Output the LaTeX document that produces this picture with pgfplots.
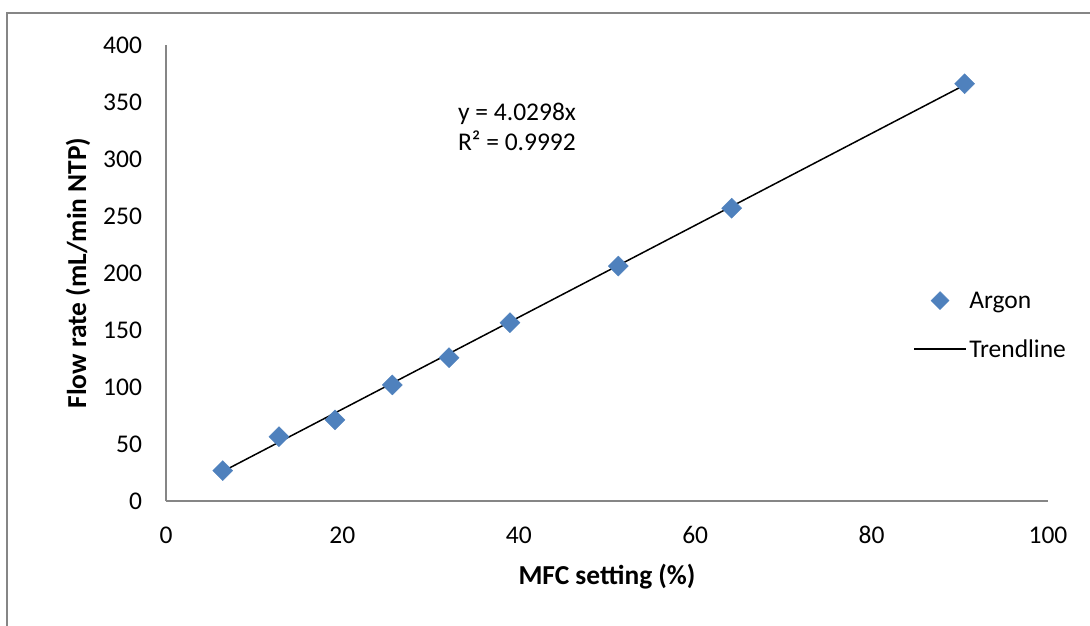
\documentclass[border=0pt]{standalone}
\usepackage{fontspec}
\setmainfont{Carlito}
\usepackage{pgfplots}
\pgfplotsset{compat=1.18}
\usetikzlibrary{calc}
\definecolor{argon}{HTML}{4F81BD}
\definecolor{axgray}{HTML}{868686}
\begin{document}
\begin{tikzpicture}
\begin{axis}[
  scale only axis, width=882bp, height=456bp,
  xmin=0, xmax=100, ymin=0, ymax=400,
  xtick={0,20,...,100}, ytick={0,50,...,400},
  axis x line*=bottom, axis y line*=left,
  axis line style={axgray, line width=1.3bp},
  major tick length=0pt,
  tick label style={font=\fontsize{25.5bp}{30bp}\selectfont},
  /pgf/number format/assume math mode=true,
  xticklabel style={yshift=-22bp},
  yticklabel style={xshift=-20.5bp},
  every axis x label/.style={at={(axis description cs:0.5,0)}, yshift=-76bp, anchor=center, font=\fontsize{27.4bp}{32bp}\selectfont\bfseries},
  every axis y label/.style={at={(axis description cs:0,0.5)}, xshift=-88bp, rotate=90, anchor=center, font=\fontsize{27.4bp}{32bp}\selectfont\bfseries},
  xlabel={MFC setting (\%)},
  ylabel={Flow rate (mL/min NTP)},
  legend style={at={(axis description cs:0.847,0.465)}, anchor=north west, draw=none, fill=none,
    font=\fontsize{25.5bp}{30bp}\selectfont, row sep=25bp, inner sep=0pt,
    nodes={inner sep=2.5bp, anchor=west}},
  legend cell align=left,
  clip=false,
]
\addplot[only marks, mark=square*, mark size=7.07bp, mark options={rotate=45}, color=argon,
  legend image code/.code={\draw[mark=square*, mark size=6.4bp, mark options={rotate=45}, argon] plot coordinates {(26bp,0bp)};}]
  coordinates {
  (6.43,26.6) (12.81,56.4) (19.16,71.1) (25.66,101.8) (32.09,125.7)
  (39.0,156.4) (51.28,206.1) (64.14,256.8) (90.54,366.0)
  };
\addlegendentry{Argon}
\addplot[black, line width=1.5bp,
  legend image code/.code={\draw[black, line width=1.5bp] (0bp,0bp) -- (52bp,0bp);}]
  coordinates {(6.43,25.9) (90.54,364.9)};
\addlegendentry{Trendline}
\node[anchor=west, align=left, font=\fontsize{25.5bp}{30bp}\selectfont, inner sep=0pt] at (axis cs:33.1,328) {y = 4.0298x\\R² = 0.9992};
\coordinate (sw) at (rel axis cs:0,0);
\end{axis}
\pgfresetboundingbox
\path[use as bounding box] ($(sw)+(-166bp,-125bp)$) rectangle ($(sw)+(924bp,501bp)$);
\draw[axgray, line width=1.5bp] ($(sw)+(-159bp,-130bp)$) -- ($(sw)+(-159bp,488bp)$) -- ($(sw)+(930bp,488bp)$);
\end{tikzpicture}
\end{document}
